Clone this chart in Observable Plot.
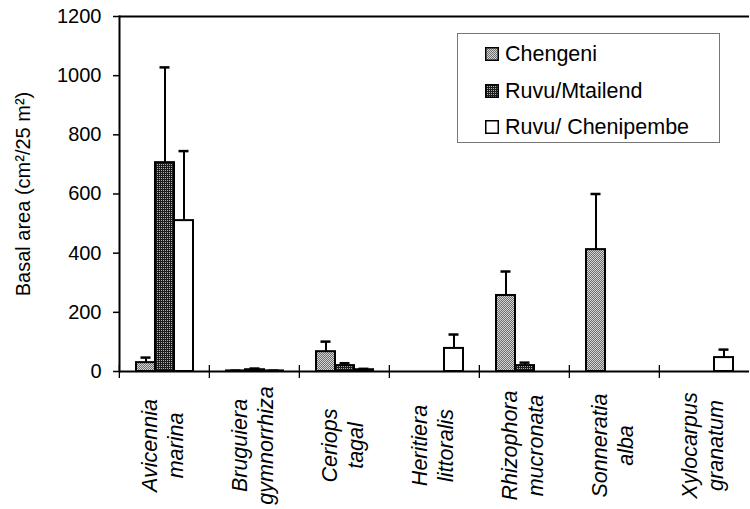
<!DOCTYPE html>
<html>
<head>
<meta charset="utf-8">
<script src="https://cdn.jsdelivr.net/npm/d3@7"></script>
<script src="https://cdn.jsdelivr.net/npm/@observablehq/plot@0.6"></script>
<style>
  html, body { margin: 0; padding: 0; background: #fff; overflow: hidden; }
  #wrap { position: relative; width: 750px; height: 509px; font-family: "Liberation Sans", Arial, sans-serif; }
  #legend { position: absolute; left: 457px; top: 33px; width: 261px; height: 108px; border: 1px solid #777; background: #fff; }
  .row { position: absolute; left: 27px; height: 26px; display: flex; align-items: center; font-size: 21.5px; color: #000; white-space: nowrap; }
  .row svg { margin-right: 6px; }
</style>
</head>
<body>
<div id="wrap"></div>
<script>
// ---- data ----
const species = ["Avicennia marina", "Bruguiera gymnorrhiza", "Ceriops tagal", "Heritiera littoralis",
                 "Rhizophora mucronata", "Sonneratia alba", "Xylocarpus granatum"];
const speciesLines = ["Avicennia\nmarina", "Bruguiera\ngymnorrhiza", "Ceriops\ntagal", "Heritiera\nlittoralis",
                      "Rhizophora\nmucronata", "Sonneratia\nalba", "Xylocarpus\ngranatum"];
const seriesNames = ["Chengeni", "Ruvu/Mtailend", "Ruvu/ Chenipembe"];
const chengeni    = [30, 2, 67, null, 257, 412, null];
const chengeniErr = [17, 1, 34, null, 81, 188, null];
const mtailend    = [706, 6, 20, null, 20, null, null];
const mtailendErr = [322, 4, 8, null, 10, null, null];
const chenipembe    = [510, 2, 6, 78, null, null, 47];
const chenipembeErr = [235, 1, 3, 47, null, null, 27];
const yTicks = [0, 200, 400, 600, 800, 1000, 1200];

// ---- build long table ----
const valueSets = [chengeni, mtailend, chenipembe];
const errSets = [chengeniErr, mtailendErr, chenipembeErr];
const rows = [];
species.forEach((sp, i) => {
  seriesNames.forEach((s, j) => {
    const v = valueSets[j][i];
    if (v != null) rows.push({species: sp, series: s, value: v, err: errSets[j][i]});
  });
});
const labelOf = new Map(species.map((s, i) => [s, speciesLines[i]]));

const W = 750, H = 509, mL = 118, mR = 0, mT = 16, mB = 138;
const step = (W - mL - mR) / species.length;

const plot = Plot.plot({
  width: W, height: H,
  marginLeft: mL, marginRight: mR, marginTop: mT, marginBottom: mB,
  style: {fontFamily: "'Liberation Sans', Arial, sans-serif", fontSize: "20px", color: "#000", background: "#fff", overflow: "visible"},
  fx: {domain: species, padding: 0, axis: null, label: null},
  x: {domain: seriesNames, paddingInner: 0, paddingOuter: 0.757, axis: null, label: null},
  y: {domain: [0, 1200], axis: null, label: null},
  color: {domain: seriesNames, range: ["url(#patC)", "url(#patM)", "#ffffff"]},
  marks: [
    Plot.axisY({ticks: yTicks, tickFormat: d => String(d), tickSize: 6, tickPadding: 12, strokeWidth: 1.5,
      fontSize: 20, label: "Basal area (cm²/25 m²)", labelAnchor: "center", labelOffset: 104, labelArrow: "none"}),
    Plot.axisFx({anchor: "bottom", tickSize: 13, dy: -6, dx: -step / 2, tickFormat: () => "", strokeWidth: 1.3, label: null}),
    Plot.barY(rows, {fx: "species", x: "series", y: "value", fill: "series", stroke: "#000", strokeWidth: 2}),
    Plot.ruleX(rows, {fx: "species", x: "series", y1: "value", y2: d => d.value + d.err, stroke: "#000", strokeWidth: 2}),
    Plot.tickY(rows, {fx: "species", x: "series", y: d => d.value + d.err, stroke: "#000", strokeWidth: 2.5, insetLeft: 4.5, insetRight: 4.5}),
    Plot.ruleY([0], {stroke: "#000", strokeWidth: 2}),
    Plot.ruleY([1200], {stroke: "#000", strokeWidth: 2}),
    Plot.frame({anchor: "left", facetAnchor: "left", stroke: "#000", strokeWidth: 2}),
    Plot.text(species, {fx: d => d, text: d => labelOf.get(d), frameAnchor: "bottom", dy: 74,
      rotate: -90, textAnchor: "middle", lineAnchor: "middle", lineHeight: 1.2,
      fontStyle: "italic", fontSize: 21.5, fill: "#000", dx: -3})
  ]
});

// stipple patterns for the fills
const defs = d3.select(plot).insert("defs", ":first-child");
const pc = defs.append("pattern").attr("id", "patC").attr("patternUnits", "userSpaceOnUse").attr("width", 2).attr("height", 2);
pc.append("rect").attr("width", 2).attr("height", 2).attr("fill", "#d4d4d4");
pc.append("rect").attr("width", 1).attr("height", 1).attr("fill", "#6e6e6e");
pc.append("rect").attr("x", 1).attr("y", 1).attr("width", 1).attr("height", 1).attr("fill", "#6e6e6e");
const pm = defs.append("pattern").attr("id", "patM").attr("patternUnits", "userSpaceOnUse").attr("width", 2).attr("height", 2);
pm.append("rect").attr("width", 2).attr("height", 2).attr("fill", "#1c1c1c");
pm.append("rect").attr("width", 1).attr("height", 1).attr("fill", "#b0b0b0");

const wrap = document.getElementById("wrap");
wrap.appendChild(plot);

// legend
const legend = document.createElement("div");
legend.id = "legend";
const fills = ["url(#patC)", "url(#patM)", "#ffffff"];
const rowTops = [7, 44, 80];
seriesNames.forEach((s, i) => {
  const r = document.createElement("div");
  r.className = "row";
  r.style.top = rowTops[i] + "px";
  r.innerHTML = `<svg width="14" height="14"><rect x="0.75" y="0.75" width="12.5" height="12.5" fill="${fills[i]}" stroke="#000" stroke-width="1.5"/></svg><span>${s}</span>`;
  legend.appendChild(r);
});
wrap.appendChild(legend);
</script>
</body>
</html>
